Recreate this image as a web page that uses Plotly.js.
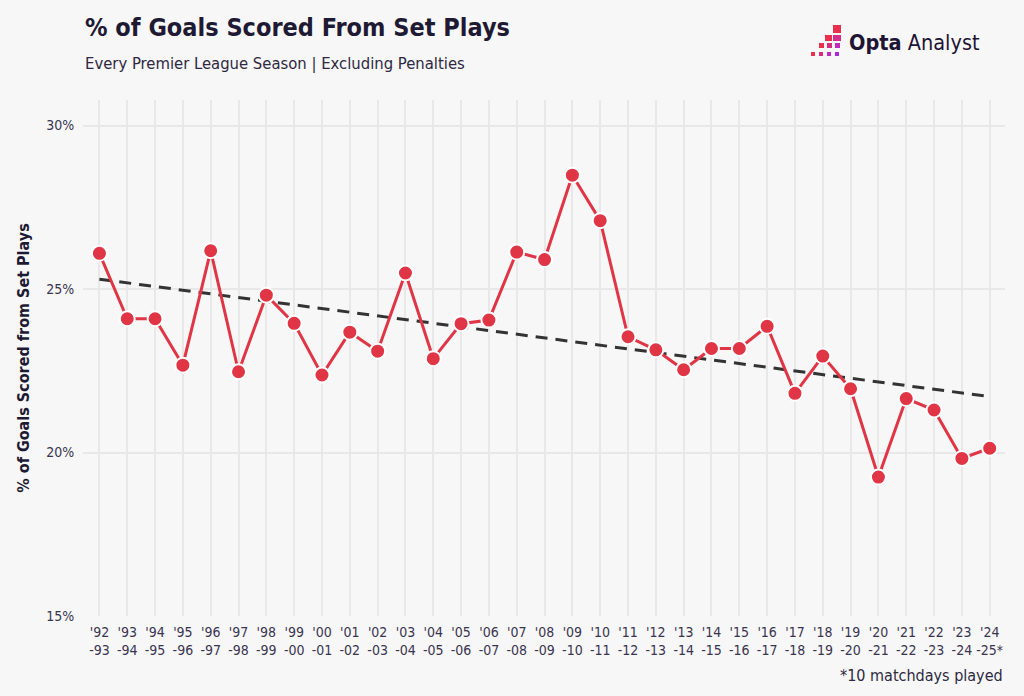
<!DOCTYPE html>
<html>
<head>
<meta charset="utf-8">
<script src="https://cdn.plot.ly/plotly-3.0.1.min.js"></script>
<style>
html,body{margin:0;padding:0;background:#f7f7f7;}
#chart{width:1024px;height:696px;}
</style>
</head>
<body>
<div id="chart"></div>
<script>
// ---- data ----
const seasonStart = ["'92","'93","'94","'95","'96","'97","'98","'99","'00","'01","'02","'03","'04","'05","'06","'07","'08","'09","'10","'11","'12","'13","'14","'15","'16","'17","'18","'19","'20","'21","'22","'23","'24"];
const seasonEnd = ["-93","-94","-95","-96","-97","-98","-99","-00","-01","-02","-03","-04","-05","-06","-07","-08","-09","-10","-11","-12","-13","-14","-15","-16","-17","-18","-19","-20","-21","-22","-23","-24","-25*"];
const setPlayPct = [26.09,24.09,24.09,22.67,26.17,22.47,24.81,23.95,22.37,23.68,23.10,25.49,22.87,23.94,24.05,26.13,25.90,28.48,27.09,23.54,23.14,22.53,23.18,23.18,23.86,21.81,22.95,21.95,19.25,21.65,21.30,19.82,20.13];
const trendEnds = [25.30, 21.71];
const yTickVals = [15,20,25,30];
const yTickText = ["15%","20%","25%","30%"];

// ---- layout helpers ----
const W = 1024, H = 696;
const M = {l:83, r:19, t:100, b:80};
const PW = W - M.l - M.r, PH = H - M.t - M.b;
const px = x => (x - M.l) / PW;
const py = y => (H - M.b - y) / PH;

const idx = setPlayPct.map((_, i) => i);
const tickText = seasonStart.map((s, i) => s + "<br>" + seasonEnd[i]);

const FONT = "'DejaVu Sans Condensed', 'Liberation Sans Narrow', sans-serif";
const INK = "#1f1a33";

const traces = [
  {
    x: [0, idx.length - 1], y: trendEnds, mode: "lines", type: "scatter",
    line: {color: "#333333", width: 3, dash: "12px,8px"}, hoverinfo: "skip"
  },
  {
    x: idx, y: setPlayPct, mode: "lines+markers", type: "scatter",
    line: {color: "#e03545", width: 3},
    marker: {color: "#e03545", size: 15, line: {color: "#ffffff", width: 2}}
  }
];

// logo squares (pixel boxes) -> paper
const logoBoxes = [
  [833,25,841,33,"#ea2f4c"],
  [825,35,832,41,"#ea2f4c"],
  [833,35,841,41,"#d42c8a"],
  [819,43,824,48,"#ea2f4c"],
  [827,43,832,48,"#d52c7e"],
  [835,43,840,48,"#c02bbd"],
  [811,52,815,56,"#ea2f4c"],
  [819,52,823,56,"#d52c7e"],
  [827,52,831,56,"#c02bbd"],
  [835,52,839,56,"#a82bd8"]
];
const shapes = logoBoxes.map(b => ({
  type: "rect", xref: "paper", yref: "paper",
  x0: px(b[0]), x1: px(b[2]), y0: py(b[3]), y1: py(b[1]),
  fillcolor: b[4], line: {width: 0}
}));

const annotations = [
  {text: "% of Goals Scored From Set Plays", xref: "paper", yref: "paper",
   x: px(83), y: py(28), xanchor: "left", yanchor: "middle", showarrow: false,
   font: {family: FONT, size: 25, color: INK, weight: 700}},
  {text: "Every Premier League Season | Excluding Penalties", xref: "paper", yref: "paper",
   x: px(83), y: py(63), xanchor: "left", yanchor: "middle", showarrow: false,
   font: {family: FONT, size: 16.5, color: "#2e2940"}},
  {text: "<b>Opta</b> Analyst", xref: "paper", yref: "paper",
   x: px(847), y: py(42), xanchor: "left", yanchor: "middle", showarrow: false,
   font: {family: FONT, size: 21.5, color: "#1e1433"}},
  {text: "*10 matchdays played", xref: "paper", yref: "paper",
   x: px(1005), y: py(675), xanchor: "right", yanchor: "middle", showarrow: false,
   font: {family: FONT, size: 16, color: "#2e2940"}}
];

const layout = {
  width: W, height: H,
  paper_bgcolor: "#f7f7f7", plot_bgcolor: "#f7f7f7",
  margin: M,
  showlegend: false,
  xaxis: {
    range: [-0.59, 32.55], tickvals: idx, ticktext: tickText,
    showgrid: true, gridcolor: "#e8e8e8", gridwidth: 2,
    zeroline: false, showline: false, ticks: "outside", ticklen: 3, tickcolor: "rgba(0,0,0,0)",
    tickfont: {family: FONT, size: 14, color: "#3a3450"}, tickangle: 0
  },
  yaxis: {
    range: [15, 30.78], tickvals: yTickVals, ticktext: yTickText,
    showgrid: true, gridcolor: "#e8e8e8", gridwidth: 2,
    zeroline: false, showline: false, ticks: "outside", ticklen: 5, tickcolor: "rgba(0,0,0,0)",
    tickfont: {family: FONT, size: 14, color: "#3a3450"},
    title: {text: "% of Goals Scored from Set Plays", standoff: 12,
            font: {family: FONT, size: 16, color: INK, weight: 700}}
  },
  shapes: shapes,
  annotations: annotations
};

Plotly.newPlot("chart", traces, layout, {displayModeBar: false, staticPlot: true});
</script>
</body>
</html>
